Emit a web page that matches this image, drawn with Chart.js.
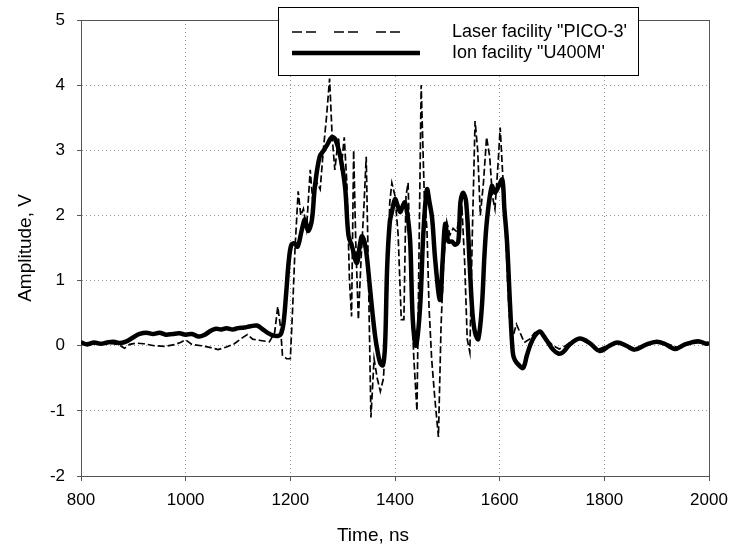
<!DOCTYPE html>
<html>
<head>
<meta charset="utf-8">
<script src="https://cdn.jsdelivr.net/npm/chart.js@4.4.1/dist/chart.umd.min.js"></script>
<style>
  body { margin: 0; background: #fff; }
  #wrap { width: 729px; height: 549px; }
</style>
</head>
<body>
<div id="wrap"><canvas id="pulse" width="729" height="549"></canvas></div>
<script>
// axis texts
const xTitle = 'Time, ns';
const yTitle = 'Amplitude, V';
const laserLabel = 'Laser facility "PICO-3\'';
const ionLabel = 'Ion facility "U400M\'';

// Ion facility "U400M" (solid)
const ionTime = [800, 812, 825, 838, 850, 862, 875, 888, 900, 912, 925, 938, 950, 962, 975, 988,
  1000, 1012, 1025, 1037, 1048, 1058, 1068, 1078, 1090, 1100, 1112, 1124, 1136, 1146, 1156, 1166,
  1176, 1182, 1187, 1192, 1197, 1202, 1208, 1214, 1222, 1228, 1234, 1241, 1247, 1256, 1264, 1270,
  1279, 1285, 1291, 1298, 1305, 1311, 1318, 1327, 1333, 1337, 1344, 1352, 1357, 1362, 1367, 1372,
  1377, 1381, 1385, 1390, 1394, 1400, 1405, 1410, 1415, 1419, 1424, 1429, 1434, 1440, 1448, 1454,
  1461, 1466, 1471, 1477, 1486, 1491, 1496, 1502, 1509, 1515, 1521, 1525, 1530, 1536, 1543, 1548,
  1553, 1559, 1566, 1571, 1576, 1585, 1591, 1598, 1605, 1609, 1614, 1620, 1625, 1629, 1637, 1645,
  1652, 1658, 1667, 1677, 1684, 1690, 1702, 1712, 1721, 1734, 1753, 1772, 1791, 1810, 1825, 1842,
  1858, 1881, 1900, 1915, 1935, 1954, 1979, 1995, 2000];
const ionAmp = [0.05, 0.02, 0.05, 0.03, 0.05, 0.06, 0.04, 0.07, 0.13, 0.18, 0.2, 0.18, 0.2, 0.17, 0.18, 0.19,
  0.17, 0.18, 0.14, 0.17, 0.23, 0.26, 0.25, 0.27, 0.25, 0.27, 0.28, 0.3, 0.31, 0.26, 0.2, 0.16,
  0.15, 0.18, 0.35, 0.8, 1.3, 1.55, 1.57, 1.52, 1.78, 1.94, 1.76, 1.92, 2.45, 2.9, 3.0, 3.08,
  3.2, 3.18, 3.05, 2.8, 2.4, 1.7, 1.52, 1.27, 1.55, 1.68, 1.5, 0.9, 0.5, 0.15, -0.1, -0.27,
  -0.3, 0.0, 1.2, 1.9, 2.05, 2.25, 2.15, 2.05, 2.15, 2.2, 2.0, 1.6, 0.4, 0.0, 0.6, 1.7,
  2.4, 2.2, 1.95, 1.3, 0.7, 1.3, 1.87, 1.6, 1.6, 1.55, 1.6, 2.2, 2.35, 2.2, 1.2, 0.5,
  0.2, 0.1, 0.6, 1.4, 1.95, 2.45, 2.35, 2.45, 2.55, 2.1, 1.6, 0.6, -0.1, -0.22, -0.3, -0.34,
  -0.15, 0.0, 0.15, 0.22, 0.15, 0.08, -0.06, -0.12, -0.1, 0.02, 0.11, 0.04, -0.08, 0.0, 0.05, 0.0,
  -0.06, 0.02, 0.06, 0.03, -0.05, 0.02, 0.07, 0.03, 0.04];

// Laser facility "PICO-3" (dashed)
const laserTime = [800, 815, 830, 845, 860, 872, 883, 893, 905, 920, 940, 960, 980, 990, 1000, 1012,
  1030, 1048, 1062, 1078, 1093, 1108, 1118, 1128, 1143, 1160, 1170, 1176, 1181, 1185, 1193, 1200,
  1204, 1209, 1215, 1220, 1225, 1231, 1238, 1243, 1251, 1257, 1263, 1269, 1275, 1280, 1285, 1292,
  1297, 1303, 1308, 1313, 1317, 1321, 1325, 1330, 1335, 1341, 1345, 1349, 1354, 1360, 1366, 1372,
  1378, 1384, 1390, 1394, 1400, 1406, 1412, 1417, 1421, 1425, 1430, 1436, 1442, 1446, 1450, 1456,
  1461, 1465, 1470, 1476, 1483, 1488, 1493, 1499, 1505, 1511, 1518, 1523, 1528, 1533, 1538, 1543,
  1548, 1553, 1558, 1563, 1569, 1575, 1581, 1586, 1591, 1597, 1601, 1606, 1612, 1618, 1624, 1632,
  1639, 1647, 1657, 1667, 1677, 1690, 1702, 1714, 1726, 1740, 1755, 1770, 1790, 1810, 1830, 1845,
  1860, 1880, 1900, 1920, 1940, 1960, 1980, 2000];
const laserAmp = [0.03, 0.05, 0.02, 0.04, 0.03, 0.02, -0.04, 0.02, 0.04, 0.03, 0.0, -0.01, 0.02, 0.05, 0.09, 0.02,
  0.0, -0.03, -0.06, -0.02, 0.03, 0.12, 0.17, 0.1, 0.08, 0.06, 0.2, 0.6, 0.3, -0.15, -0.2, -0.2,
  0.5, 1.5, 2.37, 2.0, 2.1, 1.8, 2.7, 2.2, 2.5, 2.4, 3.0, 3.5, 4.1, 3.2, 2.7, 3.2,
  2.7, 3.2, 2.5, 1.0, 0.45, 3.0, 1.6, 0.4, 1.3, 2.2, 2.9, 1.2, -1.1, -0.2, -0.5, -0.7,
  -0.5, 0.5, 2.2, 2.5, 2.3, 1.7, 0.4, 0.4, 2.3, 2.5, 1.0, -0.2, -1.0, 1.5, 4.0, 2.3,
  1.8, 0.6, -0.2, -0.8, -1.4, 0.3, 1.3, 1.9, 1.7, 1.8, 1.75, 2.0, 2.1, 1.3, 0.1, -0.1,
  1.8, 3.45, 3.0, 2.0, 2.5, 3.2, 2.9, 2.3, 2.1, 2.8, 3.35, 2.6, 1.6, 0.5, 0.1, 0.33,
  0.2, 0.05, 0.1, 0.2, 0.2, 0.1, 0.0, -0.05, 0.0, 0.08, 0.1, 0.03, -0.05, 0.02, 0.05, 0.0,
  -0.05, 0.02, 0.05, 0.03, -0.03, 0.02, 0.05, 0.04];

const font = '"Liberation Sans", Arial, sans-serif';

// plot frame (top and right sides too)
const frame = {
  id: 'frame',
  beforeDatasetsDraw(chart) {
    const {ctx, chartArea: a} = chart;
    ctx.save();
    ctx.strokeStyle = '#555';
    ctx.lineWidth = 1;
    ctx.strokeRect(Math.round(a.left) + 0.5, Math.round(a.top) + 0.5,
      Math.round(a.right - a.left), Math.round(a.bottom - a.top));
    ctx.restore();
  }
};

// boxed legend, overlapping the top of the plot
const legendBox = {
  id: 'legendBox',
  afterDraw(chart) {
    const ctx = chart.ctx;
    const ds = chart.data.datasets;
    const rows = [
      {d: ds[0], y: 32, x2: 405, dash: [10, 4, 10, 18]},
      {d: ds[1], y: 53, x2: 420, dash: []}
    ];
    ctx.save();
    ctx.fillStyle = '#fff';
    ctx.fillRect(278, 7, 360, 68);
    ctx.strokeStyle = '#000';
    ctx.lineWidth = 1;
    ctx.strokeRect(278.5, 7.5, 360, 68);
    rows.forEach(r => {
      ctx.beginPath();
      ctx.setLineDash(r.dash);
      ctx.lineWidth = r.d.borderWidth;
      ctx.strokeStyle = r.d.borderColor;
      ctx.moveTo(292, r.y);
      ctx.lineTo(r.x2, r.y);
      ctx.stroke();
      ctx.setLineDash([]);
      ctx.fillStyle = '#000';
      ctx.font = '18px ' + font;
      ctx.textBaseline = 'middle';
      ctx.fillText(r.d.label, 452, r.y);
    });
    ctx.restore();
  }
};

// axis titles
const axisTitles = {
  id: 'axisTitles',
  afterDraw(chart) {
    const ctx = chart.ctx;
    ctx.save();
    ctx.fillStyle = '#000';
    ctx.font = '19px ' + font;
    ctx.textAlign = 'center';
    ctx.textBaseline = 'middle';
    ctx.fillText(xTitle, 373, 536);
    ctx.translate(26, 248);
    ctx.rotate(-Math.PI / 2);
    ctx.fillText(yTitle, 0, 0);
    ctx.restore();
  }
};

const ctx = document.getElementById('pulse').getContext('2d');
new Chart(ctx, {
  type: 'line',
  data: {
    datasets: [
      {
        label: laserLabel,
        data: laserTime.map((t, i) => ({x: t, y: laserAmp[i]})),
        borderColor: '#000',
        borderWidth: 1.7,
        borderDash: [7, 3],
        pointRadius: 0,
        tension: 0,
        order: 0
      },
      {
        label: ionLabel,
        data: ionTime.map((t, i) => ({x: t, y: ionAmp[i]})),
        borderColor: '#000',
        borderWidth: 4.5,
        pointRadius: 0,
        tension: 0.35,
        order: 1
      }
    ]
  },
  options: {
    responsive: false,
    animation: false,
    devicePixelRatio: 1,
    layout: { padding: { top: 20, right: 20, left: 0, bottom: 0 } },
    plugins: {
      legend: { display: false },
      tooltip: { enabled: false }
    },
    scales: {
      x: {
        type: 'linear',
        min: 800,
        max: 2000,
        afterFit: s => { s.height = 73; s.paddingLeft = 0; s.paddingRight = 0; },
        ticks: { stepSize: 200, maxRotation: 0, padding: 9, color: '#000',
          font: { family: font, size: 17 }, callback: v => String(v) },
        grid: { color: '#999', tickColor: '#555', tickLength: 5, tickBorderDash: [] },
        border: { color: '#555', dash: [1, 3] }
      },
      y: {
        min: -2,
        max: 5,
        afterFit: s => { s.width = 81; s.paddingTop = 0; s.paddingBottom = 0; },
        ticks: { stepSize: 1, padding: 12, color: '#000',
          font: { family: font, size: 17 }, callback: v => String(v) },
        grid: { color: '#999', tickColor: '#555', tickLength: 4, tickBorderDash: [] },
        border: { color: '#555', dash: [1, 3] }
      }
    }
  },
  plugins: [frame, legendBox, axisTitles]
});
</script>
</body>
</html>
